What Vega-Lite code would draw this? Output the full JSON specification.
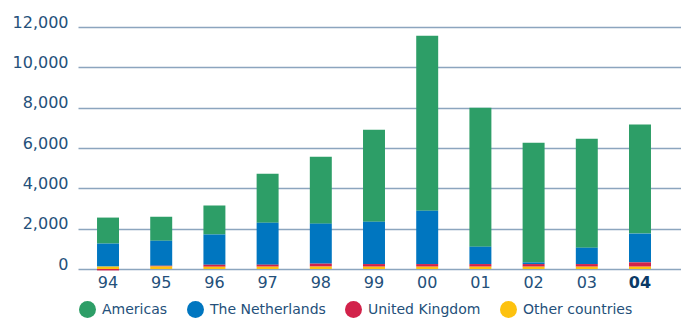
{
  "$schema": "https://vega.github.io/schema/vega-lite/v6.json",
  "autosize": {"type": "none"},
  "width": 603,
  "height": 242,
  "padding": {"left": 78, "top": 27, "right": 0, "bottom": 49},
  "background": "white",
  "config": {
    "view": {"stroke": null},
    "font": "DejaVu Sans"
  },
  "data": {
    "values": [
      {"year": "94", "region": "Americas", "value": 1290},
      {"year": "94", "region": "The Netherlands", "value": 1140},
      {"year": "94", "region": "United Kingdom", "value": -70},
      {"year": "94", "region": "Other countries", "value": 120},
      {"year": "95", "region": "Americas", "value": 1190},
      {"year": "95", "region": "The Netherlands", "value": 1240},
      {"year": "95", "region": "United Kingdom", "value": 35},
      {"year": "95", "region": "Other countries", "value": 130},
      {"year": "96", "region": "Americas", "value": 1440},
      {"year": "96", "region": "The Netherlands", "value": 1490},
      {"year": "96", "region": "United Kingdom", "value": 100},
      {"year": "96", "region": "Other countries", "value": 115},
      {"year": "97", "region": "Americas", "value": 2430},
      {"year": "97", "region": "The Netherlands", "value": 2080},
      {"year": "97", "region": "United Kingdom", "value": 100},
      {"year": "97", "region": "Other countries", "value": 115},
      {"year": "98", "region": "Americas", "value": 3320},
      {"year": "98", "region": "The Netherlands", "value": 1985},
      {"year": "98", "region": "United Kingdom", "value": 145},
      {"year": "98", "region": "Other countries", "value": 120},
      {"year": "99", "region": "Americas", "value": 4560},
      {"year": "99", "region": "The Netherlands", "value": 2100},
      {"year": "99", "region": "United Kingdom", "value": 130},
      {"year": "99", "region": "Other countries", "value": 115},
      {"year": "00", "region": "Americas", "value": 8680},
      {"year": "00", "region": "The Netherlands", "value": 2645},
      {"year": "00", "region": "United Kingdom", "value": 130},
      {"year": "00", "region": "Other countries", "value": 115},
      {"year": "01", "region": "Americas", "value": 6895},
      {"year": "01", "region": "The Netherlands", "value": 860},
      {"year": "01", "region": "United Kingdom", "value": 130},
      {"year": "01", "region": "Other countries", "value": 115},
      {"year": "02", "region": "Americas", "value": 5940},
      {"year": "02", "region": "The Netherlands", "value": 80},
      {"year": "02", "region": "United Kingdom", "value": 130},
      {"year": "02", "region": "Other countries", "value": 115},
      {"year": "03", "region": "Americas", "value": 5405},
      {"year": "03", "region": "The Netherlands", "value": 810},
      {"year": "03", "region": "United Kingdom", "value": 130},
      {"year": "03", "region": "Other countries", "value": 115},
      {"year": "04", "region": "Americas", "value": 5405},
      {"year": "04", "region": "The Netherlands", "value": 1425},
      {"year": "04", "region": "United Kingdom", "value": 215},
      {"year": "04", "region": "Other countries", "value": 115}
    ]
  },
  "transform": [
    {"calculate": "indexof(['Other countries','United Kingdom','The Netherlands','Americas'], datum.region)", "as": "stackOrder"}
  ],
  "mark": {"type": "bar"},
  "encoding": {
    "x": {
      "field": "year",
      "type": "ordinal",
      "sort": null,
      "scale": {"paddingInner": 0.587, "paddingOuter": 0.461, "align": 0.388},
      "axis": {
        "title": null,
        "domain": false,
        "ticks": false,
        "labelAngle": 0,
        "labelFontSize": 16,
        "labelColor": {"expr": "datum.value == '04' ? '#0b3a66' : '#24507a'"},
        "labelFontWeight": {"expr": "datum.value == '04' ? 'bold' : 'normal'"},
        "labelPadding": 5,
        "labelBaseline": "top"
      }
    },
    "y": {
      "field": "value",
      "type": "quantitative",
      "stack": "zero",
      "scale": {"domain": [0, 12000], "nice": false, "zero": true},
      "axis": {
        "title": null,
        "domain": false,
        "ticks": false,
        "values": [0, 2000, 4000, 6000, 8000, 10000, 12000],
        "format": ",d",
        "labelFontSize": 16,
        "labelColor": "#24507a",
        "labelPadding": 10,
        "labelBaseline": "alphabetic",
        "grid": true,
        "gridColor": "#8ca5be",
        "gridWidth": 1.6,
        "zindex": 0
      }
    },
    "color": {
      "field": "region",
      "type": "nominal",
      "scale": {
        "domain": ["Americas", "The Netherlands", "United Kingdom", "Other countries"],
        "range": ["#2d9e67", "#0076c0", "#d2224a", "#fdc20f"]
      },
      "legend": {
        "title": null,
        "orient": "none",
        "direction": "horizontal",
        "legendX": 1,
        "legendY": 274,
        "padding": 0,
        "symbolType": "circle",
        "symbolSize": 289,
        "symbolStrokeWidth": 0,
        "symbolOpacity": 1,
        "labelFontSize": 14,
        "labelColor": "#24507a",
        "labelOffset": 6,
        "columnPadding": 19,
        "labelLimit": 300
      }
    },
    "order": {"field": "stackOrder", "type": "quantitative"}
  }
}
